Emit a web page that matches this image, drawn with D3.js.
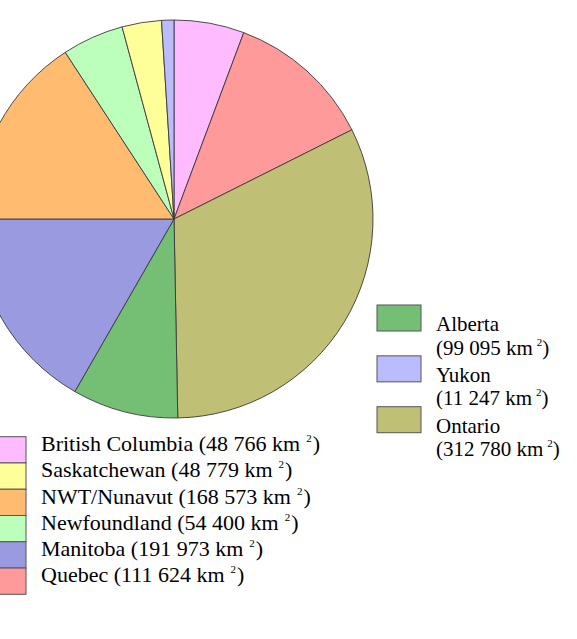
<!DOCTYPE html>
<html>
<head>
<meta charset="utf-8">
<script src="https://cdn.jsdelivr.net/npm/d3@7"></script>
<style>
  html, body { margin: 0; padding: 0; background: #fff; }
  svg { display: block; }
  text { font-family: "Liberation Serif", "Times New Roman", serif; fill: #000; }
</style>
</head>
<body>
<svg id="chart" width="577" height="639"></svg>
<script>
// Pie order (clockwise from 12 o'clock)
const provinces = ["British Columbia", "Quebec", "Ontario", "Alberta", "Manitoba", "NWT/Nunavut", "Newfoundland", "Saskatchewan", "Yukon"];
// Slice shares as drawn in the picture (percent of the pie)
const sliceShares = [5.7, 11.9, 32.1, 8.6, 16.7, 15.8, 5.0, 3.2, 1.0];
// Area labels shown in the legend (km²)
const areaLabels = ["48 766", "111 624", "312 780", "99 095", "191 973", "168 573", "54 400", "48 779", "11 247"];
const sliceColors = ["#FFBBFF", "#FF9A9A", "#BFBF75", "#75BF75", "#9A9AE0", "#FFBB70", "#BBFFBB", "#FFFF9A", "#BBBBFF"];
// Legend groupings
const leftLegend = ["British Columbia", "Saskatchewan", "NWT/Nunavut", "Newfoundland", "Manitoba", "Quebec"];
const rightLegend = ["Alberta", "Yukon", "Ontario"];

const svg = d3.select("#chart");
const color = d3.scaleOrdinal().domain(provinces).range(sliceColors);
const label = d3.scaleOrdinal().domain(provinces).range(areaLabels);

const cx = 174, cy = 219, r = 199;
const pie = d3.pie().sort(null).value(d => d.v);
const arc = d3.arc().innerRadius(0).outerRadius(r);
const data = provinces.map((p, i) => ({ name: p, v: sliceShares[i] }));

svg.append("g")
  .attr("transform", `translate(${cx},${cy})`)
  .selectAll("path")
  .data(pie(data))
  .join("path")
  .attr("d", arc)
  .attr("fill", d => color(d.data.name))
  .attr("stroke", "#3a3a3a")
  .attr("stroke-width", 0.9)
  .attr("stroke-linejoin", "round");

// Left legend: stacked swatches with single-line labels
const leftY = d3.scaleBand().domain(leftLegend).range([436.7, 594.3]).padding(0);
const lg = svg.append("g");
lg.selectAll("rect")
  .data(leftLegend)
  .join("rect")
  .attr("x", -18)
  .attr("y", d => leftY(d))
  .attr("width", 44)
  .attr("height", leftY.bandwidth())
  .attr("fill", d => color(d))
  .attr("stroke", "#555")
  .attr("stroke-width", 1);

const lt = lg.selectAll("text")
  .data(leftLegend)
  .join("text")
  .attr("x", 41)
  .attr("y", d => leftY(d) + 14.3)
  .attr("font-size", 22);
lt.append("tspan").text(d => `${d} (${label(d)} km`);
lt.append("tspan").attr("dx", 6).attr("dy", -9).attr("font-size", 11).text("2");
lt.append("tspan").attr("dx", 1).attr("dy", 9).text(")");

// Right legend: swatch with two-line labels
const rightY = d3.scalePoint().domain(rightLegend).range([305, 406.7]);
const rg = svg.append("g");
rg.selectAll("rect")
  .data(rightLegend)
  .join("rect")
  .attr("x", 377)
  .attr("y", d => rightY(d))
  .attr("width", 44)
  .attr("height", 26)
  .attr("fill", d => color(d))
  .attr("stroke", "#555")
  .attr("stroke-width", 1);

rg.selectAll("text.name")
  .data(rightLegend)
  .join("text")
  .attr("class", "name")
  .attr("x", 436)
  .attr("y", d => rightY(d) + 26)
  .attr("font-size", 21)
  .text(d => d);

const ra = rg.selectAll("text.area")
  .data(rightLegend)
  .join("text")
  .attr("class", "area")
  .attr("x", 436)
  .attr("y", d => rightY(d) + 49.5)
  .attr("font-size", 21);
ra.append("tspan").text(d => `(${label(d)} km`);
ra.append("tspan").attr("dx", 4).attr("dy", -9).attr("font-size", 11).text("2");
ra.append("tspan").attr("dx", 0).attr("dy", 9).text(")");
</script>
</body>
</html>
